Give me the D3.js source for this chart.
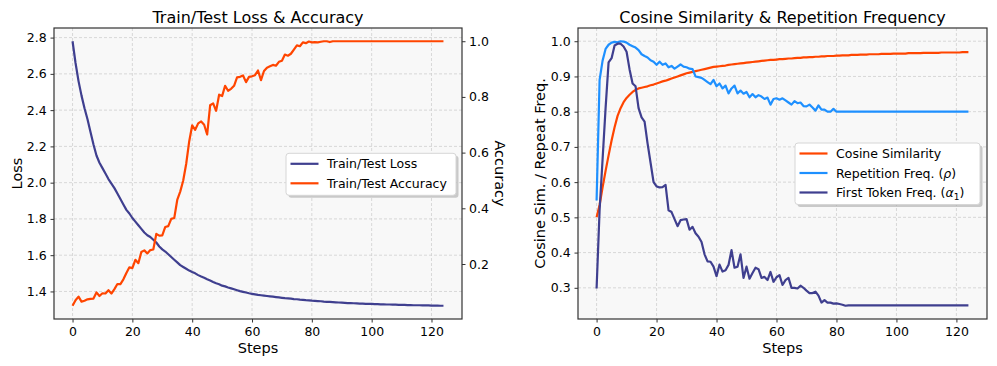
<!DOCTYPE html>
<html>
<head>
<meta charset="utf-8">
<script src="https://cdn.jsdelivr.net/npm/d3@7"></script>
<style>
body { margin: 0; background: #fff; }
text { font-family: "DejaVu Sans", sans-serif; fill: #000; }
</style>
</head>
<body>
<svg id="chart" width="997" height="366"></svg>
<script>
// x values: training steps 0..124
var steps = d3.range(0, 125);

var trainLoss = [
    2.78, 2.66, 2.56, 2.48, 2.41, 2.35, 2.28, 2.21, 2.15, 2.11,
    2.08, 2.05, 2.02, 1.995, 1.97, 1.94, 1.91, 1.88, 1.85, 1.83,
    1.805, 1.785, 1.765, 1.745, 1.725, 1.71, 1.70, 1.685, 1.67, 1.648,
    1.632, 1.62, 1.605, 1.59, 1.575, 1.56, 1.545, 1.535, 1.525, 1.515,
    1.507, 1.50, 1.49, 1.482, 1.475, 1.467, 1.46, 1.452, 1.445, 1.44,
    1.432, 1.428, 1.422, 1.417, 1.412, 1.407, 1.402, 1.398, 1.394, 1.39,
    1.387, 1.384, 1.381, 1.379, 1.377, 1.375, 1.373, 1.371, 1.369, 1.367,
    1.365, 1.363, 1.362, 1.36, 1.358, 1.357, 1.355, 1.354, 1.352, 1.351,
    1.349, 1.348, 1.347, 1.346, 1.344, 1.343, 1.342, 1.341, 1.34, 1.339,
    1.338, 1.337, 1.336, 1.336, 1.335, 1.334, 1.333, 1.333, 1.332, 1.332,
    1.331, 1.33, 1.33, 1.329, 1.329, 1.328, 1.328, 1.327, 1.327, 1.326,
    1.326, 1.326, 1.325, 1.325, 1.324, 1.324, 1.324, 1.323, 1.323, 1.323,
    1.322, 1.322, 1.322, 1.321, 1.321
];

var trainAcc = [
    0.05, 0.07, 0.083, 0.065, 0.068, 0.073, 0.075, 0.076, 0.098, 0.085,
    0.095, 0.094, 0.106, 0.094, 0.11, 0.128, 0.128, 0.145, 0.168, 0.188,
    0.185, 0.215, 0.203, 0.243, 0.249, 0.238, 0.25, 0.252, 0.308, 0.302,
    0.303, 0.333, 0.336, 0.362, 0.365, 0.43, 0.46, 0.50, 0.56, 0.64,
    0.698, 0.682, 0.705, 0.712, 0.70, 0.665, 0.77, 0.777, 0.75, 0.808,
    0.803, 0.84, 0.822, 0.829, 0.84, 0.87, 0.872, 0.877, 0.853, 0.872,
    0.874, 0.878, 0.895, 0.86, 0.893, 0.905, 0.91, 0.915, 0.912, 0.926,
    0.93, 0.952, 0.948, 0.955, 0.97, 0.985, 0.982, 0.996, 0.993, 0.999,
    0.996, 0.997, 0.996, 0.998, 1.0, 1.0, 0.997, 1.0, 1.0, 1.0,
    1.0, 1.0, 1.0, 1.0, 1.0, 1.0, 1.0, 1.0, 1.0, 1.0,
    1.0, 1.0, 1.0, 1.0, 1.0, 1.0, 1.0, 1.0, 1.0, 1.0,
    1.0, 1.0, 1.0, 1.0, 1.0, 1.0, 1.0, 1.0, 1.0, 1.0,
    1.0, 1.0, 1.0, 1.0, 1.0
];

var cosineSim = [
    0.50, 0.535, 0.585, 0.632, 0.676, 0.718, 0.756, 0.788, 0.81, 0.827,
    0.839, 0.848, 0.856, 0.862, 0.866, 0.868, 0.87, 0.872, 0.875, 0.877,
    0.88, 0.883, 0.886, 0.888, 0.891, 0.894, 0.897, 0.90, 0.903, 0.906,
    0.909, 0.911, 0.913, 0.915, 0.917, 0.919, 0.921, 0.923, 0.925, 0.927,
    0.928, 0.929, 0.93, 0.931, 0.933, 0.934, 0.935, 0.936, 0.937, 0.938,
    0.939, 0.94, 0.941, 0.942, 0.943, 0.944, 0.945, 0.946, 0.947, 0.947,
    0.948, 0.949, 0.949, 0.95, 0.951, 0.951, 0.952, 0.953, 0.953, 0.954,
    0.954, 0.955, 0.955, 0.956, 0.956, 0.957, 0.957, 0.958, 0.958, 0.958,
    0.959, 0.959, 0.96, 0.96, 0.96, 0.961, 0.961, 0.961, 0.962, 0.962,
    0.962, 0.963, 0.963, 0.963, 0.963, 0.964, 0.964, 0.964, 0.964, 0.965,
    0.965, 0.965, 0.965, 0.965, 0.966, 0.966, 0.966, 0.966, 0.966, 0.967,
    0.967, 0.967, 0.967, 0.967, 0.967, 0.968, 0.968, 0.968, 0.968, 0.968,
    0.968, 0.968, 0.969, 0.969, 0.969
];

var repFreq = [
    0.548, 0.89, 0.945, 0.978, 0.99, 0.996, 0.998, 0.997, 1.0, 0.999,
    0.996, 0.99, 0.986, 0.982, 0.975, 0.963, 0.958, 0.954, 0.946, 0.942,
    0.933, 0.942, 0.933, 0.937, 0.926, 0.93, 0.922, 0.928, 0.934, 0.928,
    0.926, 0.922, 0.921, 0.90, 0.898, 0.896, 0.89, 0.884, 0.878, 0.89,
    0.872, 0.88, 0.866, 0.874, 0.852, 0.866, 0.874, 0.852, 0.86, 0.851,
    0.856, 0.841, 0.85, 0.841, 0.847, 0.843, 0.836, 0.84, 0.82, 0.836,
    0.838, 0.834, 0.838, 0.832, 0.826, 0.82, 0.83, 0.824, 0.826, 0.816,
    0.815, 0.82, 0.812, 0.803, 0.818, 0.806, 0.806, 0.80, 0.80, 0.808,
    0.80, 0.80, 0.80, 0.80, 0.80, 0.80, 0.80, 0.80, 0.80, 0.80,
    0.80, 0.80, 0.80, 0.80, 0.80, 0.80, 0.80, 0.80, 0.80, 0.80,
    0.80, 0.80, 0.80, 0.80, 0.80, 0.80, 0.80, 0.80, 0.80, 0.80,
    0.80, 0.80, 0.80, 0.80, 0.80, 0.80, 0.80, 0.80, 0.80, 0.80,
    0.80, 0.80, 0.80, 0.80, 0.80
];

var firstTokFreq = [
    0.298, 0.52, 0.665, 0.81, 0.94, 0.952, 0.988, 0.993, 0.993, 0.985,
    0.97, 0.92, 0.88, 0.872, 0.81, 0.784, 0.772, 0.71, 0.655, 0.60,
    0.588, 0.585, 0.586, 0.592, 0.52, 0.515, 0.495, 0.475, 0.492, 0.494,
    0.495, 0.465, 0.473, 0.455, 0.445, 0.43, 0.395, 0.375, 0.374, 0.36,
    0.333, 0.366, 0.346, 0.35, 0.365, 0.407, 0.357, 0.36, 0.395, 0.328,
    0.36, 0.326, 0.342, 0.357, 0.353, 0.328, 0.331, 0.322, 0.345, 0.317,
    0.33, 0.336, 0.308, 0.322, 0.328, 0.30, 0.30, 0.298, 0.306, 0.30,
    0.292, 0.285, 0.285, 0.289, 0.278, 0.258, 0.265, 0.258, 0.258, 0.255,
    0.256, 0.254, 0.252, 0.249, 0.25, 0.25, 0.25, 0.25, 0.25, 0.25,
    0.25, 0.25, 0.25, 0.25, 0.25, 0.25, 0.25, 0.25, 0.25, 0.25,
    0.25, 0.25, 0.25, 0.25, 0.25, 0.25, 0.25, 0.25, 0.25, 0.25,
    0.25, 0.25, 0.25, 0.25, 0.25, 0.25, 0.25, 0.25, 0.25, 0.25,
    0.25, 0.25, 0.25, 0.25, 0.25
];

// tick labels
var stepTicks = [0, 20, 40, 60, 80, 100, 120];
var lossTicks = [1.4, 1.6, 1.8, 2.0, 2.2, 2.4, 2.6, 2.8];
var accTicks = [0.2, 0.4, 0.6, 0.8, 1.0];
var simTicks = [0.3, 0.4, 0.5, 0.6, 0.7, 0.8, 0.9, 1.0];

var NAVY = '#3f3f8f';
var ORANGE = '#ff4500';
var BLUE = '#1e90ff';

var svg = d3.select('#chart');
var fmt = d3.format('.1f');

// matplotlib style 5% margin around the data
var padded = function(arrays) {
    var all = [].concat.apply([], arrays);
    var lo = d3.min(all), hi = d3.max(all);
    var m = (hi - lo) * 0.05;
    return [lo - m, hi + m];
};

var styleAxis = function(g) {
    g.select('.domain').remove();
    g.selectAll('.tick line').attr('stroke', '#333').attr('stroke-width', 1);
    g.selectAll('.tick text').style('font-size', '12.5px').attr('fill', '#000');
};

var panel = function(box, yDomain, yTicks, title) {
    var g = svg.append('g');
    var x = d3.scaleLinear().domain(padded([steps])).range([box.left, box.right]);
    var y = d3.scaleLinear().domain(yDomain).range([box.bottom, box.top]);

    g.append('rect')
        .attr('x', box.left).attr('y', box.top)
        .attr('width', box.right - box.left).attr('height', box.bottom - box.top)
        .attr('fill', '#f8f8f8');

    var grid = g.append('g')
        .attr('stroke', '#cfcfcf')
        .attr('stroke-width', 0.8)
        .attr('stroke-dasharray', '3,2');
    grid.selectAll('.vx').data(stepTicks).enter().append('line')
        .attr('x1', function(d) { return x(d); }).attr('x2', function(d) { return x(d); })
        .attr('y1', box.top).attr('y2', box.bottom);
    grid.selectAll('.hy').data(yTicks).enter().append('line')
        .attr('y1', function(d) { return y(d); }).attr('y2', function(d) { return y(d); })
        .attr('x1', box.left).attr('x2', box.right);

    g.append('g')
        .attr('transform', 'translate(0,' + box.bottom + ')')
        .call(d3.axisBottom(x).tickValues(stepTicks).tickSize(3.5).tickPadding(5))
        .call(styleAxis);
    g.append('g')
        .attr('transform', 'translate(' + box.left + ',0)')
        .call(d3.axisLeft(y).tickValues(yTicks).tickFormat(fmt).tickSize(3.5).tickPadding(3.8))
        .call(styleAxis);

    g.append('text')
        .attr('x', (box.left + box.right) / 2).attr('y', 23)
        .attr('text-anchor', 'middle')
        .style('font-size', '16px')
        .text(title);
    g.append('text')
        .attr('x', (box.left + box.right) / 2).attr('y', 353)
        .attr('text-anchor', 'middle')
        .style('font-size', '14.5px')
        .text('Steps');

    return { g: g, x: x, y: y, box: box };
};

var drawLine = function(p, yScale, values, color) {
    var line = d3.line()
        .x(function(d, i) { return p.x(steps[i]); })
        .y(function(d) { return yScale(d); });
    p.g.append('path')
        .datum(values)
        .attr('d', line)
        .attr('fill', 'none')
        .attr('stroke', color)
        .attr('stroke-width', 2.2)
        .attr('stroke-linejoin', 'round');
};

var frame = function(p) {
    p.g.append('rect')
        .attr('x', p.box.left).attr('y', p.box.top)
        .attr('width', p.box.right - p.box.left).attr('height', p.box.bottom - p.box.top)
        .attr('fill', 'none')
        .attr('stroke', '#333')
        .attr('stroke-width', 1.2);
};

// labels: arrays of text parts, [text, 'i'] italic, [text, 'sub'] subscript
var legend = function(p, left, top, width, items) {
    var rowH = 19.5;
    var h = items.length * rowH + 3;
    var lg = p.g.append('g');
    lg.append('rect')
        .attr('x', left + 2.5).attr('y', top + 2.5)
        .attr('width', width).attr('height', h)
        .attr('rx', 3).attr('fill', '#999').attr('opacity', 0.5);
    lg.append('rect')
        .attr('x', left).attr('y', top)
        .attr('width', width).attr('height', h)
        .attr('rx', 3).attr('fill', '#fff').attr('stroke', '#d6d6d6');
    items.forEach(function(it, i) {
        var cy = top + 10.5 + i * rowH;
        lg.append('line')
            .attr('x1', left + 4.5).attr('x2', left + 32.5)
            .attr('y1', cy).attr('y2', cy)
            .attr('stroke', it.color).attr('stroke-width', 2.2);
        var t = lg.append('text')
            .attr('x', left + 41).attr('y', cy + 4.5)
            .style('font-size', '12.5px');
        it.label.forEach(function(part) {
            var s = t.append('tspan').text(part[0]);
            if (part[1] === 'i') s.style('font-style', 'italic');
            if (part[1] === 'sub') s.attr('dy', 3).style('font-size', '9px');
            if (part[1] === 'after') s.attr('dy', -3);
        });
    });
};

// left panel: loss + accuracy on twin axis
var left = panel({ left: 54, right: 462, top: 28, bottom: 319 },
    padded([trainLoss]), lossTicks, 'Train/Test Loss & Accuracy');
var yAcc = d3.scaleLinear().domain(padded([trainAcc])).range([319, 28]);
left.g.append('g')
    .attr('transform', 'translate(462,0)')
    .call(d3.axisRight(yAcc).tickValues(accTicks).tickFormat(fmt).tickSize(3.5).tickPadding(3.5))
    .call(styleAxis);
drawLine(left, left.y, trainLoss, NAVY);
drawLine(left, yAcc, trainAcc, ORANGE);
frame(left);
left.g.append('text')
    .attr('transform', 'translate(21.5,173.5) rotate(-90)')
    .attr('text-anchor', 'middle')
    .style('font-size', '14.5px')
    .text('Loss');
left.g.append('text')
    .attr('transform', 'translate(495,173.5) rotate(90)')
    .attr('text-anchor', 'middle')
    .style('font-size', '14.5px')
    .text('Accuracy');
legend(left, 286, 153.3, 170, [
    { color: NAVY, label: [['Train/Test Loss']] },
    { color: ORANGE, label: [['Train/Test Accuracy']] }
]);

// right panel: cosine similarity and frequencies
var right = panel({ left: 578, right: 987, top: 28, bottom: 319 },
    padded([cosineSim, repFreq, firstTokFreq]), simTicks, 'Cosine Similarity & Repetition Frequency');
drawLine(right, right.y, cosineSim, ORANGE);
drawLine(right, right.y, repFreq, BLUE);
drawLine(right, right.y, firstTokFreq, NAVY);
frame(right);
right.g.append('text')
    .attr('transform', 'translate(545,173.5) rotate(-90)')
    .attr('text-anchor', 'middle')
    .style('font-size', '14.5px')
    .text('Cosine Sim. / Repeat Freq.');
legend(right, 795, 143, 185, [
    { color: ORANGE, label: [['Cosine Similarity']] },
    { color: BLUE, label: [['Repetition Freq. ('], ['ρ', 'i'], [')']] },
    { color: NAVY, label: [['First Token Freq. ('], ['α', 'i'], ['1', 'sub'], [')', 'after']] }
]);
</script>
</body>
</html>
